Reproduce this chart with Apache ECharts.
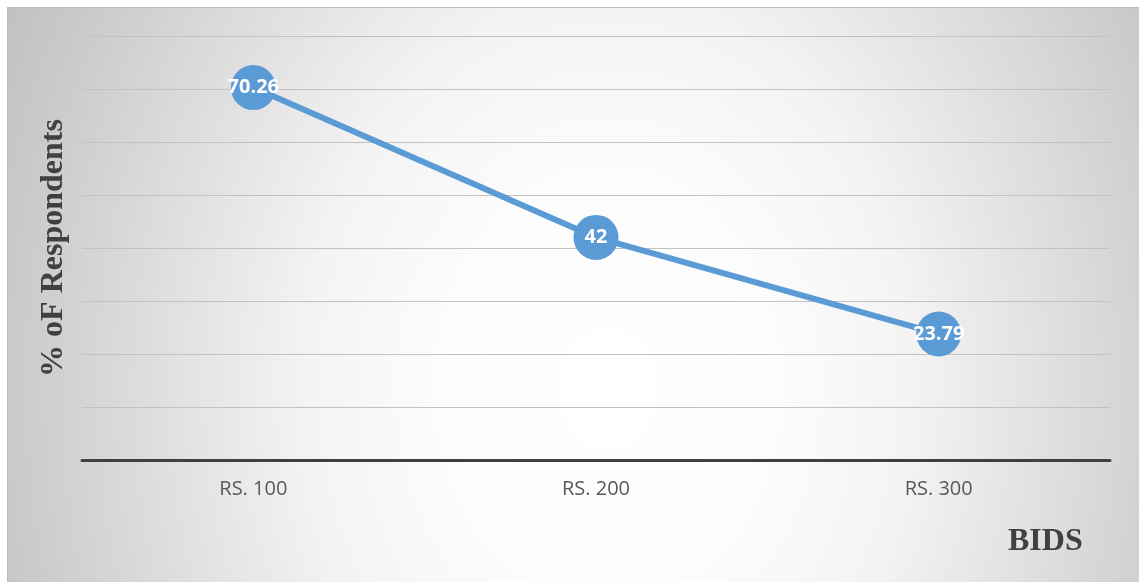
<!DOCTYPE html>
<html>
<head>
<meta charset="utf-8">
<script src="https://cdn.jsdelivr.net/npm/echarts@6/dist/echarts.min.js"></script>
<style>
html,body{margin:0;padding:0;background:#fff;}
#wrap{position:relative;width:1139px;height:582px;overflow:hidden;}
#bg{position:absolute;left:7px;top:7px;width:1132px;height:575px;border-left:1px solid #bdbdbd;border-top:1px solid #bdbdbd;
  background:radial-gradient(ellipse 60% 150% at 53% 66%, #ffffff 0%, #fcfcfc 25%, #f3f3f3 45%, #e0e0e0 65%, #cacaca 88%, #c0c0c0 100%);}
#c{position:absolute;left:0;top:0;width:1139px;height:582px;}
</style>
</head>
<body>
<div id="wrap"><div id="bg"></div><div id="c"></div></div>
<script>
const categories = ['RS. 100', 'RS. 200', 'RS. 300'];
const values = [70.26, 42, 23.79];
const labels = ['70.26', '42', '23.79'];
const yAxisTitle = '% oF Respondents';
const xAxisTitle = 'BIDS';

const chart = echarts.init(document.getElementById('c'));
chart.setOption({
  animation: false,
  backgroundColor: 'transparent',
  graphic: [
    {
      type: 'text', left: 1008, top: 526, silent: true,
      style: { text: xAxisTitle, font: 'bold 32px "Liberation Serif", "DejaVu Serif", serif', fill: '#404040' }
    }
  ],
  grid: { left: 82, right: 29, top: 36, bottom: 122, containLabel: false },
  xAxis: {
    type: 'category',
    data: categories,
    boundaryGap: true,
    axisLine: { show: true, lineStyle: { color: '#404040', width: 3 } },
    axisTick: { show: false },
    axisLabel: { color: '#595959', fontSize: 20, fontFamily: '"Open Sans", Lato, sans-serif', margin: 19 }
  },
  yAxis: {
    type: 'value',
    min: 0, max: 80, interval: 10,
    name: yAxisTitle,
    nameLocation: 'middle',
    nameRotate: 90,
    nameGap: 12,
    nameTextStyle: { color: '#404040', fontSize: 32, fontWeight: 'bold', fontFamily: '"Liberation Serif", "DejaVu Serif", serif', verticalAlign: 'bottom' },
    axisLine: { show: false },
    axisTick: { show: false },
    axisLabel: { show: false },
    splitLine: { show: true, lineStyle: { color: '#c2c2c2', width: 1 } }
  },
  series: [{
    type: 'line',
    data: values,
    symbol: 'circle',
    symbolSize: 45,
    lineStyle: { color: '#5b9bd5', width: 6 },
    itemStyle: { color: '#5b9bd5' },
    label: {
      show: true, position: 'inside',
      formatter: p => labels[p.dataIndex],
      color: '#ffffff', fontSize: 20, fontWeight: 'bold',
      fontFamily: '"Open Sans", Lato, sans-serif'
    }
  }]
});
</script>
</body>
</html>
